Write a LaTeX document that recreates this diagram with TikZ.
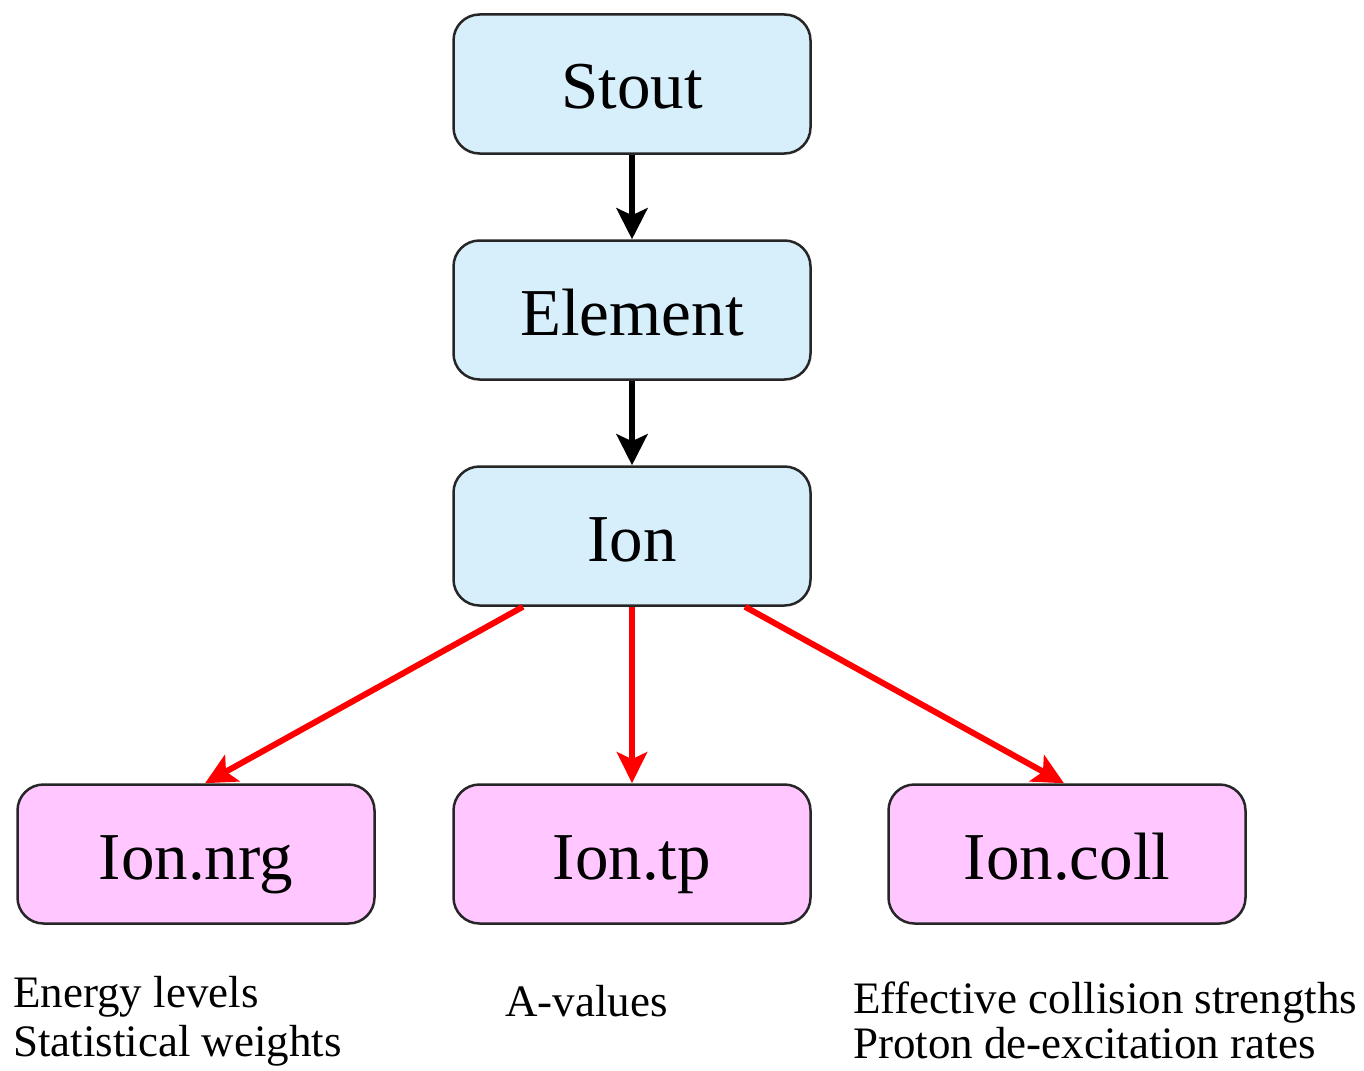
\documentclass[tikz,border=0pt]{standalone}
\usepackage{fontspec}
\setmainfont{Liberation Serif}
\usetikzlibrary{arrows.meta}
\definecolor{boxblue}{HTML}{D7EEFB}
\definecolor{boxpink}{HTML}{FFC6FF}
\definecolor{edgegray}{HTML}{262626}
\definecolor{linkred}{HTML}{FF0000}
\begin{document}
\begin{tikzpicture}[x=1pt,y=-1pt,
  filebox/.style={draw=edgegray, line width=2.5pt, rounded corners=26pt,
    minimum width=357pt, minimum height=139pt, inner sep=0pt,
    text height=50pt, text depth=0pt, font=\fontsize{67}{70}\selectfont},
  levelbox/.style={filebox, fill=boxblue},
  databox/.style={filebox, fill=boxpink},
  note/.style={inner sep=0pt, anchor=base west, font=\fontsize{45}{50}\selectfont},
  blackarrow/.style={draw=black, line width=6pt,
    -{Stealth[length=31pt, width=31pt, inset=7pt]}},
  redarrow/.style={draw=linkred, line width=6pt,
    -{Stealth[length=31pt, width=30pt, inset=7pt]}}]
\useasboundingbox (0,0) rectangle (1364,1070);

% hierarchy of the atomic data files
\node[levelbox] (stout)   at (632,84)  {Stout};
\node[levelbox] (element) at (632,310) {Element};
\node[levelbox] (ion)     at (632,536) {Ion};

\node[databox] (nrg)  at (196,854)  {Ion.nrg};
\node[databox] (tp)   at (632,854)  {Ion.tp};
\node[databox] (coll) at (1067,854) {Ion.coll};

% contents of each data file
\node[note] (nrgnote) at (13,1007)
  {\vtop{\baselineskip=49pt \hbox{Energy levels}\hbox{Statistical weights}}};
\node[note] (tpnote) at (505,1016) {A-values};
\node[note] (collnote) at (853,1013)
  {\vtop{\baselineskip=45pt \hbox{Effective collision strengths}\hbox{Proton de-excitation rates}}};

% connectors
\draw[blackarrow] (stout) -- (element);
\draw[blackarrow] (element) -- (ion);
\draw[redarrow] ([xshift=-109pt]ion.south) -- ([xshift=9pt]nrg.north);
\draw[redarrow] (ion) -- (tp);
\draw[redarrow] ([xshift=113pt]ion.south) -- ([xshift=-3pt]coll.north);
\end{tikzpicture}
\end{document}
